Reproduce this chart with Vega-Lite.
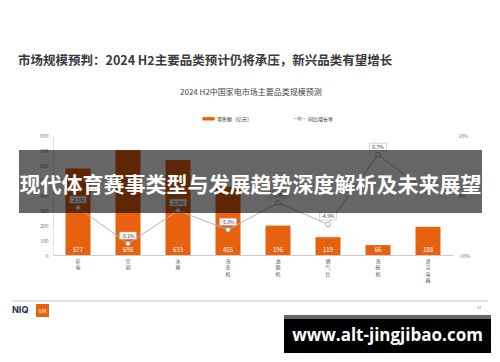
{
  "$schema": "https://vega.github.io/schema/vega-lite/v6.json",
  "width": 400,
  "height": 120,
  "autosize": {"type": "none"},
  "padding": {"left": 53, "top": 135, "right": 47, "bottom": 107},
  "background": "white",
  "title": {
    "text": "市场规模预判：2024 H2主要品类预计仍将承压，新兴品类有望增长",
    "anchor": "start",
    "frame": "group",
    "dx": -35,
    "offset": 16,
    "fontSize": 12.5,
    "fontWeight": "bold",
    "color": "#3a3a3a",
    "baseline": "middle"
  },
  "datasets": {
    "market": [
      {"category": "彩电", "sales": 577, "growth": -0.021},
      {"category": "空调", "sales": 698, "growth": -0.081},
      {"category": "冰箱", "sales": 633, "growth": -0.026},
      {"category": "洗衣机", "sales": 455, "growth": -0.058},
      {"category": "油烟机", "sales": 196, "growth": -0.013},
      {"category": "燃气灶", "sales": 119, "growth": -0.049},
      {"category": "洗碗机", "sales": 66, "growth": 0.067},
      {"category": "清洁电器", "sales": 188, "growth": 0.005}
    ],
    "banner": [{"text": "现代体育赛事类型与发展趋势深度解析及未来展望"}],
    "watermark": [{"text": "www.alt-jingjibao.com"}],
    "logo": [{"text": "NIQ"}],
    "gfk": [{"text": "GfK"}],
    "page": [{"text": "34"}]
  },
  "layer": [
    {
      "data": {"name": "market"},
      "encoding": {
        "x": {
          "field": "category",
          "type": "nominal",
          "sort": null,
          "scale": {"paddingInner": 0.5, "paddingOuter": 0.25},
          "axis": {
            "title": null,
            "labelAngle": 0,
            "labelExpr": "split(datum.label, '')",
            "labelFontSize": 5,
            "labelLineHeight": 6.5,
            "labelColor": "#555555",
            "labelBaseline": "top",
            "labelPadding": 3,
            "ticks": false,
            "domainColor": "#cccccc",
            "domainWidth": 1
          }
        }
      },
      "layer": [
        {
          "encoding": {
            "y": {
              "field": "sales",
              "type": "quantitative",
              "scale": {"domain": [0, 800]},
              "axis": {
                "title": null,
                "orient": "left",
                "values": [0, 100, 200, 300, 400, 500, 600, 700, 800],
                "grid": false,
                "ticks": false,
                "labelFontSize": 5,
                "labelColor": "#777777",
                "labelPadding": 5,
                "domainColor": "#e0e0e0"
              }
            }
          },
          "layer": [
            {
              "mark": {"type": "bar"},
              "encoding": {
                "color": {
                  "datum": "零售额（亿元）",
                  "scale": {"domain": ["零售额（亿元）", "同比增长率"], "range": ["#E8610E", "#b5b5b5"]},
                  "legend": {
                    "title": "2024 H2中国家电市场主要品类规模预测",
                    "orient": "none",
                    "legendX": 127,
                    "legendY": -46,
                    "direction": "horizontal",
                    "titleFontSize": 8,
                    "titleFontWeight": "normal",
                    "titleColor": "#444444",
                    "titleAnchor": "start",
                    "titlePadding": 15,
                    "labelFontSize": 5,
                    "labelColor": "#333333",
                    "symbolSize": 144,
                    "symbolOffset": 22,
                    "labelOffset": 2,
                    "columnPadding": 18,
                    "encode": {
                      "symbols": {
                        "update": {
                          "shape": {"signal": "datum.value === '零售额（亿元）' ? 'M-0.95,-0.22H0.95V0.22H-0.95Z' : 'M-1,0H-0.3M0.3,0H1M0.3,0A0.3,0.3,0,1,1,-0.3,0A0.3,0.3,0,1,1,0.3,0'"},
                          "fill": {"signal": "datum.value === '零售额（亿元）' ? '#E8610E' : '#ffffff'"},
                          "stroke": {"signal": "datum.value === '零售额（亿元）' ? null : '#aaaaaa'"},
                          "strokeWidth": {"value": 0.8},
                          "size": {"value": 144},
                          "opacity": {"value": 1}
                        }
                      }
                    }
                  }
                }
              }
            },
            {
              "mark": {"type": "text", "color": "#ffffff", "fontSize": 6, "baseline": "bottom", "dy": -2},
              "encoding": {
                "y": {"datum": 0},
                "text": {"field": "sales", "type": "quantitative"}
              }
            }
          ]
        },
        {
          "encoding": {
            "y": {
              "field": "growth",
              "type": "quantitative",
              "scale": {"domain": [-0.1, 0.1]},
              "axis": {
                "title": null,
                "orient": "right",
                "values": [-0.1, 0, 0.1],
                "format": ".0%",
                "grid": false,
                "ticks": false,
                "domain": false,
                "labelFontSize": 5,
                "labelColor": "#777777",
                "labelPadding": 5
              }
            }
          },
          "layer": [
            {
              "mark": {"type": "line", "strokeWidth": 1},
              "encoding": {"color": {"datum": "同比增长率"}}
            },
            {
              "mark": {"type": "point", "shape": "circle", "size": 22, "filled": true, "fill": "#ffffff", "stroke": "#999999", "strokeWidth": 0.8, "opacity": 1}
            },
            {
              "mark": {"type": "point", "shape": "M-1,-0.42H1V0.42H-1Z", "size": 289, "filled": true, "fill": "#ffffff", "stroke": "#aaaaaa", "strokeWidth": 0.5, "opacity": 1, "yOffset": -8}
            },
            {
              "mark": {"type": "text", "fontSize": 5, "color": "#333333", "baseline": "middle", "yOffset": -8},
              "encoding": {"text": {"field": "growth", "type": "quantitative", "format": ".1%"}}
            }
          ]
        }
      ],
      "resolve": {"scale": {"y": "independent"}}
    },
    {
      "layer": [
        {
          "data": {"name": "banner"},
          "mark": {"type": "rect", "color": "#000000", "opacity": 0.6},
          "encoding": {
            "x": {"datum": -0.085, "type": "quantitative", "scale": {"domain": [0, 1]}, "axis": null},
            "x2": {"datum": 1.0725},
            "y": {"datum": 0.35, "type": "quantitative", "scale": {"domain": [0, 1]}, "axis": null},
            "y2": {"datum": 0.875}
          }
        },
        {
          "data": {"name": "banner"},
          "mark": {"type": "text", "color": "#ffffff", "fontSize": 21, "fontWeight": "bold", "baseline": "middle", "align": "center"},
          "encoding": {
            "x": {"datum": 0.49375, "type": "quantitative"},
            "y": {"datum": 0.575, "type": "quantitative"},
            "text": {"field": "text"}
          }
        },
        {
          "data": {"name": "logo"},
          "mark": {"type": "rule", "color": "#c8c8c8", "strokeWidth": 1},
          "encoding": {
            "x": {"datum": -0.1025, "type": "quantitative"},
            "x2": {"datum": 1.0875},
            "y": {"datum": -0.3833, "type": "quantitative"}
          }
        },
        {
          "data": {"name": "logo"},
          "mark": {"type": "text", "color": "#1b2a57", "fontSize": 9, "fontWeight": "bold", "font": "Inter", "baseline": "middle", "align": "left"},
          "encoding": {
            "x": {"datum": -0.1025, "type": "quantitative"},
            "y": {"datum": -0.4583, "type": "quantitative"},
            "text": {"field": "text"}
          }
        },
        {
          "data": {"name": "gfk"},
          "mark": {"type": "rect", "color": "#E8610E", "opacity": 1},
          "encoding": {
            "x": {"datum": -0.0425, "type": "quantitative"},
            "x2": {"datum": -0.01},
            "y": {"datum": -0.4083, "type": "quantitative"},
            "y2": {"datum": -0.5167}
          }
        },
        {
          "data": {"name": "gfk"},
          "mark": {"type": "text", "color": "#ffffff", "fontSize": 5, "baseline": "middle", "align": "center"},
          "encoding": {
            "x": {"datum": -0.02625, "type": "quantitative"},
            "y": {"datum": -0.4625, "type": "quantitative"},
            "text": {"field": "text"}
          }
        },
        {
          "data": {"name": "page"},
          "mark": {"type": "text", "color": "#888888", "fontSize": 4, "baseline": "middle", "align": "center"},
          "encoding": {
            "x": {"datum": 1.065, "type": "quantitative"},
            "y": {"datum": -0.4417, "type": "quantitative"},
            "text": {"field": "text"}
          }
        },
        {
          "data": {"name": "watermark"},
          "mark": {"type": "rect", "color": "#666666", "opacity": 1},
          "encoding": {
            "x": {"datum": 0.5775, "type": "quantitative"},
            "x2": {"datum": 1.095},
            "y": {"datum": -0.5, "type": "quantitative"},
            "y2": {"datum": -0.5333}
          }
        },
        {
          "data": {"name": "watermark"},
          "mark": {"type": "rect", "color": "#000000", "opacity": 1},
          "encoding": {
            "x": {"datum": 0.5775, "type": "quantitative"},
            "x2": {"datum": 1.095},
            "y": {"datum": -0.5333, "type": "quantitative"},
            "y2": {"datum": -0.8167}
          }
        },
        {
          "data": {"name": "watermark"},
          "mark": {"type": "text", "color": "#ffffff", "fontSize": 17, "fontWeight": "bold", "font": "Open Sans", "baseline": "middle", "align": "center"},
          "encoding": {
            "x": {"datum": 0.83625, "type": "quantitative"},
            "y": {"datum": -0.675, "type": "quantitative"},
            "text": {"field": "text"}
          }
        }
      ]
    }
  ],
  "resolve": {"scale": {"x": "independent", "y": "independent", "color": "independent"}},
  "config": {
    "font": "Noto Sans CJK SC",
    "view": {"stroke": null},
    "locale": {"number": {"decimal": ".", "thousands": ",", "grouping": [3], "currency": ["", ""], "minus": "-"}}
  }
}
